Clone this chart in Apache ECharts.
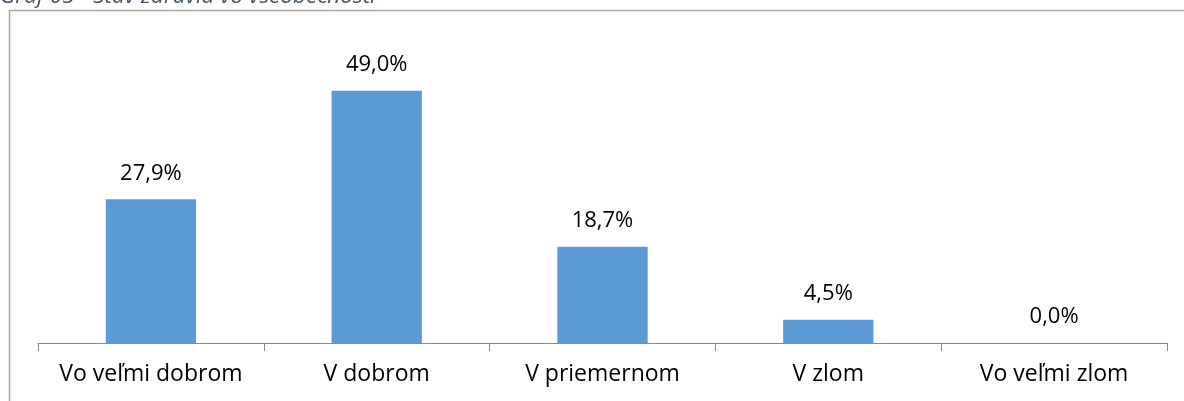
<!DOCTYPE html>
<html><head><meta charset="utf-8">
<script src="https://cdn.jsdelivr.net/npm/echarts@6/dist/echarts.min.js"></script>
<style>html,body{margin:0;padding:0;background:#fff}#c{width:1184px;height:401px}</style>
</head><body><div id="c"></div>
<script>
const titleText = 'Graf 05 - Stav zdravia vo všeobecnosti';
const categories = ['Vo veľmi dobrom', 'V dobrom', 'V priemernom', 'V zlom', 'Vo veľmi zlom'];
const values = [27.9, 49.0, 18.7, 4.5, 0.0];

const FONT = '"Open Sans", "Noto Sans", sans-serif';
const chart = echarts.init(document.getElementById('c'), null, {renderer: 'canvas'});
chart.setOption({
  animation: false,
  backgroundColor: '#fff',
  graphic: [
    {type: 'rect', shape: {x: 9.5, y: 10.5, width: 1300, height: 500},
     style: {fill: 'none', stroke: '#a6a6a6', lineWidth: 1.5}, silent: true},
    {type: 'text', x: 0, y: 8,
     style: {text: titleText, fill: '#44546a', font: 'italic 22.5px ' + FONT,
             verticalAlign: 'bottom', align: 'left'}}
  ],
  grid: {left: 38, right: 17, top: 34, bottom: 58, containLabel: false},
  xAxis: {
    type: 'category', data: categories,
    axisLine: {show: true, lineStyle: {color: '#898989', width: 1}},
    axisTick: {show: true, length: 8, alignWithLabel: false, lineStyle: {color: '#898989'}},
    axisLabel: {color: '#000', fontSize: 23, fontFamily: FONT, margin: 20, interval: 0}
  },
  yAxis: {
    type: 'value', min: 0, max: 60, show: false,
    splitLine: {show: false}
  },
  series: [{
    type: 'bar', data: values, barWidth: '40%',
    itemStyle: {color: '#5b9bd5'},
    label: {show: true, position: 'top', distance: 15, color: '#000', fontSize: 22,
            fontFamily: FONT,
            formatter: p => p.value.toFixed(1).replace('.', ',') + '%'}
  }]
});
</script></body></html>
